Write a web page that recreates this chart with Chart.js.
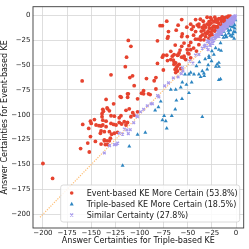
<!DOCTYPE html>
<html><head><meta charset="utf-8">
<script src="https://cdn.jsdelivr.net/npm/chart.js@4.4.1/dist/chart.umd.min.js"></script>
<style>html,body{margin:0;padding:0;background:#fff}canvas{display:block}</style>
</head><body><canvas id="c" width="249" height="249" style="width:249px;height:249px"></canvas>
<script>
const seriesLabels = ['Event-based KE More Certain (53.8%)','Triple-based KE More Certain (18.5%)','Similar Certainty (27.8%)'];
const xTitle = 'Answer Certainties for Triple-based KE';
const yTitle = 'Answer Certainties for Event-based KE';
const xTicks = [-200,-175,-150,-125,-100,-75,-50,-25,0];
const yTicks = [-200,-175,-150,-125,-100,-75,-50,-25,0];
const diagonal = [[-203,-203],[0,0]];

const eventMore = [
[-200,-149],[-190,-164],[-159.4,-66],[-161,-134],[-152,-137.4],
[-134.6,-84.6],[-138,-94.5],[-137.4,-96.5],[-138.8,-98.9],[-133.6,-93.2],[-146.7,-104.8],[-150.8,-106.4],[-150,-108.7],[-158.8,-109.7],[-145,-110.3],[-142,-111],[-139.8,-111.3],[-138,-110.3],[-138.8,-102],[-138,-105.4],[-134.6,-106.4],[-152.6,-113.7],[-139.8,-116.3],[-136.4,-117],[-140.5,-118.6],[-150.8,-121.9],[-145.7,-126.8],[-136.4,-126.2],[-133.6,-126.2],[-131.2,-126.2],[-153.6,-128.5],[-139.8,-129.5],[-135.4,-130],
[-119,-82.4],[-112.3,-82.4],[-111.6,-79],[-102,-84],[-95.8,-79],[-90.7,-79],[-133,-94],[-131.2,-96],[-126.8,-89],[-129.5,-101],[-126,-101.4],[-121,-103],[-119.2,-101],[-114,-95.5],[-110.6,-94],[-107,-97.9],[-108.9,-102],[-105.5,-100.4],[-102,-97],[-134.6,-112],[-129.5,-108.7],[-126.8,-109.7],[-124.3,-110.3],[-121,-107.8],[-118.5,-109.3],[-115.8,-107],[-112.4,-107.8],[-114,-110.3],[-131.2,-117],[-126,-118.6],[-128.8,-119.6],[-122.7,-117.6],[-136.4,-125.2],[-130.2,-123.6],[-133,-130],
[-71.8,-5.9],[-78.7,-10.5],[-76.3,-10.5],[-70,-16.4],[-71,-23],[-111.6,-25.3],[-81.4,-25.7],[-108.9,-31.2],[-67.6,-36.2],[-71.8,-40.2],[-75.3,-40.2],[-76.3,-42.1],[-71,-45.5],[-66,-41.1],[-113.4,-42.1],[-81.4,-48.4],[-114.7,-51.7],[-75.3,-55],[-129.5,-59.9],[-110,-62.6],[-107.2,-60.9],[-92.8,-63.6],[-83,-62.6],[-84.8,-65.8],[-105.5,-70.8],[-83,-74.1],[-95.8,-75.8],[-97.9,-78.4],[-89,-79.7],[-112.4,-79],[-120,-81.7],
[-64.2,-47.1],[-61.8,-52.7],[-59,-49.4],[-57.3,-53.7],[-53.9,-41.1],[-52.2,-44.5],[-47,-42.8],[-56.3,-42.1],[-53.9,-28],[-56.3,-31.2],[-47,-27.3],[-48.8,-30.6],[-38.5,-29.6],[-36.7,-21.4],[-41.9,-16.4],[-46,-14.1],[-44.3,-11.5],[-38.5,-8.9],[-56.3,-21.4],[-56.3,-4.3],[-41.9,-4.3],[-70.4,-21.4],[-55.7,-18.8],[-50.5,-21.4],
[-67.6,-44.5],[-64.2,-39.5],[-60.7,-40.2],[-59,-37.9],[-53.9,-42.8],[-48.8,-38.9],[-47,-34.6],[-50.5,-34.6],[-62.5,-47.8],[-64.2,-49.4],[-60.7,-51],[-63.1,-54.4],[-62.5,-57.6],[-60.7,-56],
[-28,-6.5],[-33.3,-14.8],[-31.6,-21.4],[-29.9,-18.1],[-24.7,-14.8],[-21.2,-11.5],[-17.8,-8.2],[-23,-6.5],[-16.1,-3.3],[-12.7,-2.3],[-7.5,-1.6],[-19.6,-14.5],[-24.7,-19.5],[-33.3,-24.7],[-39.2,-24],[-26.4,-2.3],[-25.5,-4.5],[-21.2,-4.3],[-17.8,-3.3],[-14.4,-1.6],[-10.9,-3.3],[-40.2,-9.9],[-38.5,-11.5],[-35,-12.2],[-31.5,-12],[-29.9,-8.9],[-27.4,-13.1],[-23,-10.9],[-19.6,-11.5],[-16.1,-11],[-12.7,-8.2],[-26,-17],[-22,-16],[-35,-19.8],[-36.7,-24.7],[-28.1,-23],
[-30,-2],[-28,-10],[-26,-8],[-22,-2],[-20,-7],[-19,-5],[-18,-12],[-15,-6],[-14,-9],[-13,-5],[-11,-6],[-10,-2],[-9,-4],[-8,-1],[-6,-1],[-34,-6],[-36,-16],[-32,-18],[-29,-16],[-27,-20],[-24,-12],[-21,-14],[-33,-10],[-37,-4],[-44,-20],[-47,-9],[-51,-12],[-60,-10],[-62,-15],[-44,-33],[-41,-36],[-50,-38],[-42,-24],[-58,-35],[-63,-30],[-65,-45],[-60,-40]
];

const tripleMore = [
[-0.7,-4.9],[-2.4,-8.2],[-4.1,-11.5],[-1.4,-13.2],[-5.8,-14.8],[-2.4,-16.5],[-7.6,-18.1],[-11,-19.8],[-4.1,-21.4],[-9.3,-13.2],[-12.7,-16.5],[-15.1,-19.8],[-1.5,-10],[-3,-12],[-6.5,-11],[-8,-15.5],[-1,-17],[-3.5,-19],[-6,-20.5],[-10,-22],[-2,-23.5],[-13,-22.5],
[-10.3,-21.4],[-16.1,-28],[-21.2,-32.9],[-17.8,-34.6],[-15.5,-35.6],[-23,-39.5],[-28.1,-41.1],[-28,-42.8],[-25.4,-46.1],[-17.8,-47.7],[-21,-51.7],[-17.8,-51.7],[-28.9,-50],[-19.6,-49.4],[-41,-51],[-35,-56],[-29.9,-54.4],[-33.3,-58.3],[-33,-61],[-36.7,-62],[-38.5,-59.3],[-43.6,-59.3],[-47,-57.6],[-48.8,-59.3],[-52.9,-59.3],[-46,-67.5],[-51.4,-69.8],[-55.7,-67.5],[-57.3,-72.5],[-62.5,-74.7],[-67.6,-74.7],[-48.8,-78.1],[-56,-84],[-61.8,-85.6],[-63,-94.5],[-66.6,-101],[-74.5,-101.1],[-76.3,-105.4],[-72.8,-106.4],[-71.8,-113.7],[-78,-86.6],[-83.8,-95.5],[-80.4,-92.2],[-102,-120],[-94,-118],[-110.6,-131.8],[-117.5,-151],[-35,-102.1],[-17.8,-64.9],[-16.1,-64.2],[-32,-44],[-38,-47],[-25,-36]
];

const similar = [
[-28.9,-34.6],[-30,-26],[-38.5,-39.5],[-44.7,-48],[-55.6,-52.7],[-56.7,-58.7],[-55,-56],[-74,-71],[-80,-82],[-81.3,-80.7],[-86.6,-89],[-88,-89],[-95.8,-94.5],[-102,-102],[-103,-101],[-109.6,-115],[-113,-115.3],[-111.6,-119],[-115.8,-114.3],[-117.5,-119.5],[-121,-118.6],[-122.6,-128.5],[-124.3,-130],[-126,-130],[-131,-131],[-136.4,-138.4],[-65,-63],[-60,-62],[-48,-46],[-42,-40],[-35,-33],[-33,-31],[-70,-68],[-92,-91],[-99,-97],[-106,-108],
[-28,-27],[-27,-29],[-26,-24],[-25,-26],[-24,-23],[-23,-25],[-22,-20],[-22,-23],[-21,-22],[-20,-19],[-20,-21],[-19,-17],[-19,-20],[-18,-18],[-18,-16],[-17,-19],[-17,-15],[-16,-16],[-16,-14],[-15,-17],[-15,-13],[-14,-14],[-14,-12],[-13,-15],[-13,-11],[-12,-12],[-12,-10],[-11,-13],[-11,-9],[-10,-10],[-10,-8],[-9,-11],[-9,-7],[-8,-8],[-8,-6],[-7,-9],[-7,-5],[-6,-6],[-6,-4],[-5,-7],[-5,-3],[-4,-4],[-4,-2],[-3,-5],[-3,-1.5],[-2,-2],[-2,-3.5],[-1.5,-1],[-1,-2],[-0.8,-0.6],[-1.2,-4],[-2.5,-6],[-3.5,-7.5],[-5,-9],[-6.5,-8],[-8.5,-11.5],[-10.5,-12],[-12.5,-14.5],[-15,-18],[-17.5,-21],[-24,-28],[-26.5,-30],[-30,-32],[-32,-30],[-29,-26],[-9,-5],[-13,-9],[-16,-12],[-19,-15]
];

const toPts = a => a.map(p => ({x: p[0], y: p[1]}));
const colors = ['#e6432f', '#2e86c1', '#a99cec'];
const FONT = 'DejaVu Sans';
const fmt = v => String(v).replace('-', '\u2212');

const frameAndLegend = {
  id: 'frameAndLegend',
  afterDatasetsDraw(chart) {
    const {ctx, chartArea: ca} = chart;
    ctx.save();
    ctx.strokeStyle = '#3a3a3a';
    ctx.lineWidth = 0.9;
    ctx.strokeRect(ca.left, ca.top, ca.right - ca.left, ca.bottom - ca.top);
    const w = 179, h = 37;
    const x0 = ca.right - 4 - w, y0 = ca.bottom - 6 - h;
    const r = 2.5;
    ctx.beginPath();
    ctx.moveTo(x0 + r, y0);
    ctx.arcTo(x0 + w, y0, x0 + w, y0 + h, r);
    ctx.arcTo(x0 + w, y0 + h, x0, y0 + h, r);
    ctx.arcTo(x0, y0 + h, x0, y0, r);
    ctx.arcTo(x0, y0, x0 + w, y0, r);
    ctx.closePath();
    ctx.fillStyle = 'rgba(255,255,255,0.85)';
    ctx.fill();
    ctx.strokeStyle = '#d0d0d0';
    ctx.lineWidth = 0.8;
    ctx.stroke();
    ctx.font = '8px "' + FONT + '"';
    ctx.textBaseline = 'middle';
    ctx.textAlign = 'left';
    seriesLabels.forEach((lab, i) => {
      const cy = y0 + 8 + i * 11;
      const mx = x0 + 11;
      ctx.fillStyle = colors[i];
      ctx.strokeStyle = colors[i];
      if (i === 0) {
        ctx.beginPath(); ctx.arc(mx, cy, 1.8, 0, Math.PI * 2); ctx.fill();
      } else if (i === 1) {
        ctx.beginPath(); ctx.moveTo(mx, cy - 2.2); ctx.lineTo(mx + 2, cy + 1.5); ctx.lineTo(mx - 2, cy + 1.5); ctx.closePath(); ctx.fill();
      } else {
        ctx.lineWidth = 1.2;
        ctx.beginPath(); ctx.moveTo(mx - 1.5, cy - 1.5); ctx.lineTo(mx + 1.5, cy + 1.5); ctx.moveTo(mx + 1.5, cy - 1.5); ctx.lineTo(mx - 1.5, cy + 1.5); ctx.stroke();
      }
      ctx.fillStyle = '#1a1a1a';
      ctx.fillText(lab, x0 + 26, cy + 0.5);
    });
    ctx.restore();
  }
};

new Chart(document.getElementById('c'), {
  type: 'scatter',
  data: {
    datasets: [
      {label: 'diag', type: 'line', data: toPts(diagonal), borderColor: 'rgba(255,185,105,0.95)', borderWidth: 1.2, borderDash: [1.2, 1.3], pointRadius: 0, showLine: true, fill: false, order: 4},
      {label: seriesLabels[0], data: toPts(eventMore), pointStyle: 'circle', pointRadius: 1.9, backgroundColor: colors[0], borderWidth: 0, order: 3},
      {label: seriesLabels[1], data: toPts(tripleMore), pointStyle: 'triangle', pointRadius: 2.3, backgroundColor: colors[1], borderWidth: 0, order: 2},
      {label: seriesLabels[2], data: toPts(similar), pointStyle: 'crossRot', pointRadius: 1.9, borderColor: colors[2], backgroundColor: colors[2], borderWidth: 1.3, order: 1}
    ]
  },
  options: {
    responsive: false,
    animation: false,
    devicePixelRatio: 1,
    layout: {padding: {left: 0, right: 4, top: 3, bottom: 0}},
    plugins: {legend: {display: false}, tooltip: {enabled: false}},
    scales: {
      x: {
        type: 'linear', min: -210.3, max: 7.9,
        afterBuildTicks: s => { s.ticks = xTicks.map(v => ({value: v})); },
        afterFit: s => { s.height = 21; },
        grid: {color: '#d6d6d6', lineWidth: 0.8, drawTicks: false},
        border: {display: false},
        ticks: {font: {family: FONT, size: 7}, color: '#222', padding: 1.2, maxRotation: 0, callback: v => fmt(v)},
        title: {display: true, text: xTitle, font: {family: FONT, size: 8}, color: '#111', padding: {top: 0, bottom: 3.6}}
      },
      y: {
        type: 'linear', min: -213.8, max: 8.6,
        afterBuildTicks: s => { s.ticks = yTicks.map(v => ({value: v})); },
        afterFit: s => { s.width = 33; },
        grid: {color: '#d6d6d6', lineWidth: 0.8, drawTicks: false},
        border: {display: false},
        ticks: {font: {family: FONT, size: 7}, color: '#222', padding: 2.5, callback: v => fmt(v)},
        title: {display: true, text: yTitle, font: {family: FONT, size: 8}, color: '#111', padding: {top: 0.4, bottom: 0}}
      }
    }
  },
  plugins: [frameAndLegend]
});
</script>
</body></html>
